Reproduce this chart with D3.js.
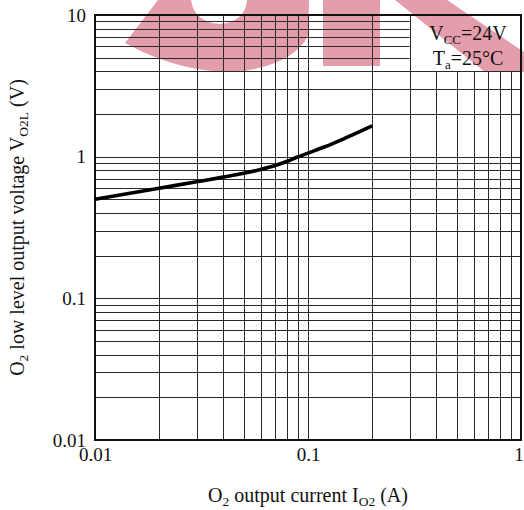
<!DOCTYPE html>
<html><head><meta charset="utf-8">
<script src="https://cdn.jsdelivr.net/npm/d3@7"></script>
<style>
body{margin:0;background:#fff}
svg{display:block}
text{font-family:"Liberation Serif","Times New Roman",serif;fill:#111}
</style>
</head><body>
<svg id="c" width="524" height="510"></svg>
<script>
// ---- data ----
const currentA = [0.01, 0.02, 0.03, 0.04, 0.05, 0.06, 0.07, 0.08, 0.09, 0.1, 0.12, 0.15, 0.2];
const voltageV = [0.50, 0.599, 0.665, 0.717, 0.763, 0.812, 0.866, 0.929, 0.999, 1.06, 1.175, 1.355, 1.65];
const xTickValues = [0.01, 0.1, 1];
const xTickLabels = ["0.01", "0.1", "1"];
const yTickValues = [0.01, 0.1, 1, 10];
const yTickLabels = ["0.01", "0.1", "1", "10"];
const xDomain = [0.01, 1];
const yDomain = [0.01, 10];
const legendRegion = {x0: 0.3, x1: 1, y0: 4, y1: 10};
const conditions = [
  {main: "V", sub: "CC", rest: "=24V"},
  {main: "T", sub: "a", rest: "=25\u00B0C"}
];

// ---- layout ----
const svg = d3.select("#c");
const m = {l: 95, r: 521, t: 15, b: 440};
const x = d3.scaleLog().domain(xDomain).range([m.l, m.r]);
const y = d3.scaleLog().domain(yDomain).range([m.b, m.t]);
const px = v => Math.round(v) + 0.5;

// watermark (decorative)
const wm = svg.append("g").attr("fill", "#e49dab");
wm.append("path").attr("d",
  "M158,0 L191,0 Q194,22 220,24 Q245,22 247,0 L309,0 L308,36 Q292,66 235,72 Q180,73 125,43 Z");
wm.append("path").attr("d", "M323,0 L380,0 L380,66 L323,66 Z");
wm.append("path").attr("d", "M395,0 L447,0 L524,52 L524,72 L485,72 Z");

// grid
const grid = svg.append("g").attr("stroke", "#2a2a2a").attr("stroke-width", 1);
x.ticks().forEach(v => {
  const top = v > legendRegion.x0 + 1e-9 ? y(legendRegion.y0) : m.t;
  grid.append("line").attr("x1", px(x(v))).attr("x2", px(x(v))).attr("y1", top).attr("y2", m.b);
});
y.ticks().forEach(v => {
  const right = v > legendRegion.y0 + 1e-9 ? x(legendRegion.x0) : m.r;
  grid.append("line").attr("x1", m.l).attr("x2", right).attr("y1", px(y(v))).attr("y2", px(y(v)));
});

// frame
svg.append("rect").attr("x", m.l).attr("y", m.t).attr("width", m.r - m.l).attr("height", m.b - m.t)
  .attr("fill", "none").attr("stroke", "#111").attr("stroke-width", 2);

// curve
const line = d3.line().x((d, i) => x(currentA[i])).y(d => y(d)).curve(d3.curveMonotoneX);
svg.append("path").datum(voltageV).attr("d", line).attr("fill", "none")
  .attr("stroke", "#000").attr("stroke-width", 3.6).attr("stroke-linecap", "butt");

// axes (labels only)
const xAxis = d3.axisBottom(x).tickValues(xTickValues).tickSize(0).tickPadding(0)
  .tickFormat((d, i) => xTickLabels[i]);
const gx = svg.append("g").attr("transform", `translate(0,${m.b})`).call(xAxis);
gx.select(".domain").remove();
gx.selectAll("text").attr("font-size", 19).attr("font-family", "Liberation Serif").attr("fill", "#111").attr("dy", "1.1em");
gx.selectAll(".tick").filter(d => d === 1).attr("transform", `translate(${m.r - 2},0)`);

const yAxis = d3.axisLeft(y).tickValues(yTickValues).tickSize(0).tickPadding(0)
  .tickFormat((d, i) => yTickLabels[i]);
const gy = svg.append("g").attr("transform", `translate(${m.l - 9},0)`).call(yAxis);
gy.select(".domain").remove();
gy.selectAll("text").attr("font-size", 19).attr("font-family", "Liberation Serif").attr("fill", "#111");

// conditions
conditions.forEach((c, i) => {
  const t = svg.append("text").attr("x", 468).attr("y", 40 + i * 24.5)
    .attr("text-anchor", "middle").attr("font-size", 20);
  t.append("tspan").text(c.main);
  t.append("tspan").attr("font-size", 13).attr("dy", 4).text(c.sub);
  t.append("tspan").attr("dy", -4).text(c.rest);
});

// x title
const xt = svg.append("text").attr("x", (m.l + m.r) / 2).attr("y", 502)
  .attr("text-anchor", "middle").attr("font-size", 20);
xt.append("tspan").text("O");
xt.append("tspan").attr("font-size", 13.5).attr("dy", 3.5).text("2");
xt.append("tspan").attr("dy", -3.5).text(" output current I");
xt.append("tspan").attr("font-size", 13.5).attr("dy", 3.5).text("O2");
xt.append("tspan").attr("dy", -3.5).text(" (A)");

// y title
const yt = svg.append("text").attr("transform", `translate(24,${(m.t + m.b) / 2}) rotate(-90)`)
  .attr("text-anchor", "middle").attr("font-size", 20);
yt.append("tspan").text("O");
yt.append("tspan").attr("font-size", 13.5).attr("dy", 3.5).text("2");
yt.append("tspan").attr("dy", -3.5).text(" low level output voltage V");
yt.append("tspan").attr("font-size", 13.5).attr("dy", 3.5).text("O2L");
yt.append("tspan").attr("dy", -3.5).text(" (V)");
</script>
</body></html>
